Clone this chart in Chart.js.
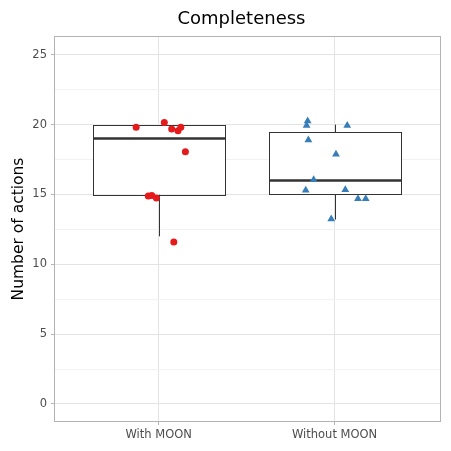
<!DOCTYPE html>
<html>
<head>
<meta charset="utf-8">
<script src="https://cdn.jsdelivr.net/npm/chart.js@4/dist/chart.umd.min.js"></script>
<style>
  html, body { margin: 0; padding: 0; background: #fff; }
  #wrap { width: 451px; height: 451px; }
</style>
</head>
<body>
<div id="wrap"><canvas id="grafica" width="451" height="451"></canvas></div>
<script>
const titulo = "Completeness";
const categorias = ["With MOON", "Without MOON"];
const posiciones = [1, 2];

// box stats: lower whisker, q1, median, q3, upper whisker
const cajaBajo = [12, 13.2];
const cajaQ1 = [15, 15];
const cajaMediana = [19, 16];
const cajaQ3 = [20, 19.45];
const cajaAlto = [20, 20];

// jittered points, x in category units
const conMoonX = [0.872, 1.032, 1.074, 1.110, 1.126, 1.152, 0.941, 0.961, 0.987, 1.086];
const conMoonY = [19.8, 20.14, 19.69, 19.55, 19.8, 18.05, 14.88, 14.93, 14.74, 11.6];
const sinMoonX = [1.847, 1.841, 2.072, 1.851, 2.008, 1.881, 1.836, 2.061, 2.133, 2.177, 1.981];
const sinMoonY = [20.26, 19.93, 19.93, 18.9, 17.88, 16.05, 15.29, 15.34, 14.69, 14.69, 13.24];

const ticksY = [0, 5, 10, 15, 20, 25];

const puntos = (xs, ys) => xs.map((x, i) => ({ x: x, y: ys[i] }));

const cajas = {
    id: "cajas",
    beforeDatasetsDraw(chart) {
        const { ctx, scales: { x, y } } = chart;
        const ancho = 0.75;
        ctx.save();
        posiciones.forEach((p, i) => {
            const xc = Math.round(x.getPixelForValue(p)) + 0.5;
            const x0 = x.getPixelForValue(p - ancho / 2);
            const x1 = x.getPixelForValue(p + ancho / 2);
            const yQ1 = y.getPixelForValue(cajaQ1[i]);
            const yQ3 = y.getPixelForValue(cajaQ3[i]);
            ctx.strokeStyle = "#333333";
            ctx.lineWidth = 1;
            ctx.beginPath();
            ctx.moveTo(xc, y.getPixelForValue(cajaBajo[i]));
            ctx.lineTo(xc, yQ1);
            ctx.moveTo(xc, y.getPixelForValue(cajaAlto[i]));
            ctx.lineTo(xc, yQ3);
            ctx.stroke();
            ctx.fillStyle = "#ffffff";
            ctx.fillRect(x0, yQ3, x1 - x0, yQ1 - yQ3);
            ctx.strokeRect(Math.round(x0) + 0.5, Math.round(yQ3) + 0.5, Math.round(x1 - x0), Math.round(yQ1 - yQ3));
            ctx.lineWidth = 2.5;
            ctx.beginPath();
            const yMed = y.getPixelForValue(cajaMediana[i]);
            ctx.moveTo(Math.round(x0) + 0.5, yMed);
            ctx.lineTo(Math.round(x1) + 0.5, yMed);
            ctx.stroke();
        });
        ctx.restore();
    },
    afterDraw(chart) {
        const { ctx, chartArea: a } = chart;
        ctx.save();
        ctx.strokeStyle = "#b3b3b3";
        ctx.lineWidth = 1;
        ctx.strokeRect(Math.round(a.left) + 0.5, Math.round(a.top) + 0.5, Math.round(a.right - a.left) - 1, Math.round(a.bottom - a.top) - 1);
        // title centred over the panel
        ctx.fillStyle = "#000000";
        ctx.font = "18px 'DejaVu Sans'";
        ctx.textAlign = "center";
        ctx.textBaseline = "alphabetic";
        ctx.fillText(titulo, (a.left + a.right) / 2 - 6, 24);
        ctx.restore();
    },
};

new Chart(document.getElementById("grafica"), {
    type: "scatter",
    data: {
        datasets: [
            {
                label: categorias[0],
                data: puntos(conMoonX, conMoonY),
                backgroundColor: "#e41a1c",
                borderColor: "#e41a1c",
                pointStyle: "circle",
                pointRadius: 3.5,
                borderWidth: 0,
            },
            {
                label: categorias[1],
                data: puntos(sinMoonX, sinMoonY),
                backgroundColor: "#377eb8",
                borderColor: "#377eb8",
                pointStyle: "triangle",
                pointRadius: 4.5,
                borderWidth: 0,
            },
        ],
    },
    options: {
        responsive: false,
        animation: false,
        devicePixelRatio: 1,
        layout: { padding: { left: 0, right: 10, top: 36, bottom: 0 } },
        plugins: {
            legend: { display: false },
            tooltip: { enabled: false },
            title: { display: false },
        },
        scales: {
            x: {
                type: "linear",
                min: 0.405,
                max: 2.605,
                afterBuildTicks: (s) => { s.ticks = posiciones.map((v) => ({ value: v })); },
                afterFit: (s) => { s.height = 29; },
                ticks: {
                    callback: (v) => categorias[posiciones.indexOf(v)],
                    color: "#4d4d4d",
                    font: { family: "DejaVu Sans", size: 11.5 },
                    padding: 3,
                    maxRotation: 0,
                },
                grid: { color: "#e3e3e3", tickColor: "#b3b3b3", tickLength: 3, lineWidth: 1 },
                border: { display: false },
            },
            y: {
                min: -1.29,
                max: 26.34,
                afterBuildTicks: (s) => {
                    const t = [];
                    for (let v = 0; v <= 25; v += 2.5) t.push({ value: v });
                    s.ticks = t;
                },
                afterFit: (s) => { s.width = 54; },
                ticks: {
                    callback: (v) => (ticksY.includes(v) ? String(v) : ""),
                    color: "#4d4d4d",
                    font: { family: "DejaVu Sans", size: 11.5 },
                    padding: 4,
                },
                grid: {
                    color: (c) => (c.tick && ticksY.includes(c.tick.value) ? "#e3e3e3" : "#f2f2f2"),
                    tickColor: (c) => (c.tick && ticksY.includes(c.tick.value) ? "#b3b3b3" : "rgba(0,0,0,0)"),
                    tickLength: 3,
                    lineWidth: 1,
                },
                border: { display: false },
                title: {
                    display: true,
                    text: "Number of actions",
                    color: "#000000",
                    font: { family: "DejaVu Sans", size: 15.5 },
                    padding: { top: 10, bottom: 0 },
                },
            },
        },
    },
    plugins: [cajas],
});
</script>
</body>
</html>
